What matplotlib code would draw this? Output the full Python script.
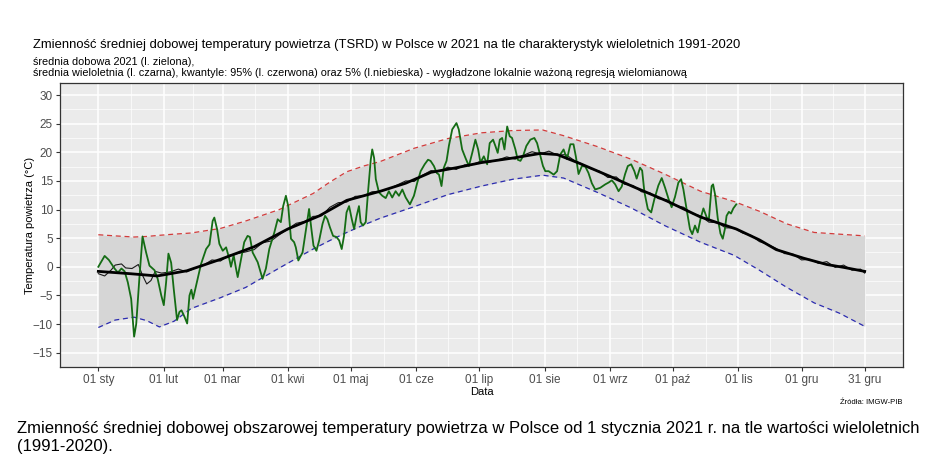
import numpy as np
import matplotlib.pyplot as plt

plt.rcParams['font.family'] = ['Liberation Sans', 'DejaVu Sans']

# os X: dzien roku 2021 (0 = 1 stycznia)
tick_days = [0, 31, 59, 90, 120, 151, 181, 212, 243, 273, 304, 334, 364]
tick_labels = ['01 sty', '01 lut', '01 mar', '01 kwi', '01 maj', '01 cze', '01 lip',
               '01 sie', '01 wrz', '01 paź', '01 lis', '01 gru', '31 gru']

# srednia dobowa 2021 (l. zielona)
green_day = [0, 3, 5, 7.7, 9.3, 11, 12.5, 14, 15.6, 17, 18, 19.5, 21, 22.7, 24.3, 26.7,
             28.2, 29.9, 31.1, 32.2, 33.3, 34.6, 35.8, 37.4, 38.5, 39.5, 40.9, 42.2, 43.3,
             44.2, 45, 47.2, 48.8, 51.2, 52.8, 54.3, 55.1, 56.4, 57.5, 59.1, 60.7, 62.2, 63,
             64.3, 65.4, 66.2, 67.8, 69.3, 70.9, 72, 73.3, 75.7, 78, 79.6, 81.2, 83.6, 85.2,
             86.7, 87.8, 89.1, 90.2, 91.5, 93, 93.8, 95, 97, 98.2, 99.4, 100.1, 101.2, 102.2,
             103.6, 104.9, 106.5, 107.7, 108.8, 110, 111.5, 113.1, 114.4, 115.6, 116.7, 117.9,
             119.1, 120.4, 121.5, 122.7, 123.8, 124.6, 125.7, 127, 128.2, 129.4, 130.1, 131,
             131.8, 133.3, 134.9, 136.5, 138, 139.6, 141.2, 142.8, 144.4, 146, 148, 149.9,
             151.5, 153.1, 155, 156.6, 157.8, 159.4, 160.7, 161.8, 163, 164.1, 165.4, 166.5,
             168.1, 170.1, 171.2, 172.8, 174.4, 176, 177.6, 179.1, 180.4, 181.5, 183.1, 184.7,
             185.9, 187.5, 188.6, 189.7, 190.7, 191.8, 192.9, 194.2, 195.4, 196.5, 198.1,
             199.2, 200.5, 201.7, 203.3, 205.2, 207.1, 208.4, 209.6, 211.2, 212.3, 213.9,
             216.3, 217.9, 219.4, 221, 222.6, 224.2, 225.7, 226.8, 228.1, 229.7, 231.3, 232.8,
             234.4, 236, 238.4, 240.8, 242.3, 243.9, 245.5, 247.1, 248.6, 250.2, 251.5, 253.1,
             254.6, 255.7, 257.3, 258.3, 259.4, 261, 262.6, 264.1, 266, 267.6, 269.2, 270.8,
             272.3, 273.9, 275.5, 276.8, 277.9, 279.4, 281, 282.1, 283.4, 284.7, 286.1, 287.4,
             289, 290, 291.3, 292, 293, 294.2, 295.5, 296.6, 297.6, 298.4, 299.5, 300.5,
             301.6, 303]
green_temp = [0.0, 1.9, 1.2, -0.3, -1.0, -0.3, -0.8, -2.7, -5.6, -12.2, -10.0, -2.0, 5.3,
              2.5, 0.2, -0.6, -2.1, -5.0, -6.7, -2.7, 2.3, 0.7, -3.8, -9.3, -7.9, -7.6, -8.7,
              -9.9, -5.0, -4.0, -5.6, -2.1, 0.5, 3.1, 3.9, 8.0, 8.6, 6.6, 4.0, 2.8, 3.4, 1.4,
              0.0, 2.0, -0.3, -1.8, 1.4, 4.3, 5.4, 5.2, 2.5, 0.8, -2.1, -0.3, 3.1, 6.0, 8.3,
              7.8, 10.6, 12.4, 10.6, 4.9, 4.3, 3.4, 1.1, 2.5, 5.4, 8.3, 10.1, 6.6, 3.7, 2.8,
              4.6, 7.5, 8.9, 8.3, 6.9, 5.4, 5.2, 4.6, 3.1, 5.4, 9.5, 10.6, 8.3, 6.6, 8.9, 10.6,
              7.8, 7.2, 7.8, 13.5, 18.7, 20.5, 19.0, 15.3, 13.0, 12.4, 12.0, 13.2, 12.1, 13.2,
              12.4, 13.5, 12.1, 10.9, 12.4, 14.7, 16.7, 17.9, 18.7, 18.5, 17.6, 16.4, 16.1,
              14.1, 17.3, 18.5, 21.1, 24.0, 25.1, 24.0, 20.5, 19.0, 17.6, 19.9, 22.2, 20.5,
              18.2, 19.3, 17.9, 21.6, 22.2, 21.1, 19.9, 22.2, 22.5, 20.5, 24.5, 22.8, 22.5,
              20.5, 18.7, 18.5, 19.3, 21.1, 22.2, 22.5, 21.6, 19.9, 17.6, 16.7, 16.7, 16.1,
              16.7, 19.6, 20.5, 18.8, 21.4, 21.4, 19.3, 16.2, 17.6, 17.5, 16.4, 14.6, 13.5,
              13.8, 14.4, 14.7, 15.1, 14.4, 13.2, 14.0, 16.2, 17.6, 17.9, 16.7, 15.4, 17.3,
              16.8, 13.0, 10.1, 9.5, 11.8, 14.2, 15.5, 13.8, 11.9, 10.4, 12.2, 14.7, 15.3,
              13.5, 10.1, 6.6, 5.7, 7.2, 6.0, 8.5, 10.2, 8.6, 8.3, 14.1, 14.4, 12.5, 8.5, 5.8,
              4.9, 6.6, 8.9, 9.6, 9.3, 10.2, 10.9]

# srednia wieloletnia - wartosci dobowe (cienka czarna)
mean_day = [0, 3, 6, 8, 11, 13, 16, 19, 21, 23, 25, 27, 30, 34, 38, 42, 46, 50, 54, 58, 62,
            66, 70, 74, 78, 82, 86, 90, 94, 98, 102, 106, 110, 114, 118, 122, 126, 130, 134,
            138, 142, 146, 150, 154, 158, 162, 166, 170, 174, 178, 182, 186, 190, 194, 198,
            202, 206, 210, 214, 218, 222, 226, 230, 234, 238, 242, 246, 250, 254, 258, 262,
            266, 270, 274, 278, 282, 286, 290, 294, 298, 302, 306, 310, 314, 318, 322, 326,
            330, 334, 338, 342, 346, 350, 354, 358, 362, 364]
mean_raw = [-1.2, -1.6, -0.6, 0.3, 0.5, -0.2, -0.3, 0.4, -1.5, -3.0, -2.4, -0.8, -1.1, -0.9,
            -0.4, -0.9, -0.2, 0.3, 1.2, 1.0, 2.0, 2.3, 2.6, 3.0, 4.2, 4.5, 5.6, 6.6, 7.6, 7.9,
            8.8, 8.9, 10.4, 11.2, 11.3, 12.3, 12.4, 13.1, 13.2, 13.6, 14.3, 15.0, 14.9, 16.0,
            16.8, 16.7, 17.4, 17.0, 17.8, 17.9, 18.5, 18.3, 18.7, 19.2, 18.8, 19.5, 20.1, 19.7,
            20.2, 19.5, 19.6, 18.6, 17.9, 17.1, 16.7, 15.6, 15.7, 14.4, 14.2, 13.1, 12.9, 11.9,
            11.7, 10.7, 10.4, 9.3, 8.9, 7.8, 7.7, 6.8, 6.8, 5.9, 5.5, 4.4, 3.9, 3.2, 2.3, 2.2,
            1.2, 1.3, 0.6, 0.9, -0.1, 0.3, -0.6, -0.4, -1.1]

# srednia wieloletnia wygladzona (gruba czarna)
smooth_day = [0, 15, 28, 42, 58, 74, 90, 105, 118, 134, 146, 158, 170, 182, 197, 210, 218,
              229, 243, 254, 270, 286, 303, 314, 322, 335, 346, 354, 364]
smooth_mean = [-0.8, -1.2, -1.6, -0.7, 1.3, 3.5, 6.6, 8.9, 11.6, 13.2, 14.6, 16.5, 17.3,
               18.2, 19.0, 19.8, 19.6, 18.0, 15.8, 14.0, 11.5, 8.7, 6.6, 4.7, 3.0, 1.5, 0.4,
               -0.1, -0.8]

# kwantyle 95% (czerwona) i 5% (niebieska)
q_day = [0, 8, 17, 23, 29, 36, 44, 58, 70, 86, 102, 110, 118, 126, 134, 150, 166, 182, 197,
         211, 221, 237, 253, 269, 286, 302, 314, 327, 340, 352, 364]
q95 = [5.6, 5.4, 5.2, 5.3, 5.5, 5.7, 5.9, 6.7, 8.0, 10.0, 12.8, 14.8, 16.6, 17.6, 18.4, 20.7,
       22.4, 23.4, 23.8, 23.9, 22.9, 21.0, 18.8, 16.2, 13.2, 11.4, 9.7, 7.5, 6.0, 5.7, 5.4]
q05 = [-10.6, -9.3, -8.8, -9.4, -10.5, -9.5, -7.3, -5.4, -3.6, -0.2, 3.1, 4.6, 6.0, 7.3, 8.5,
       10.5, 12.6, 14.1, 15.3, 16.0, 15.5, 13.0, 10.3, 7.2, 4.3, 2.0, -0.6, -3.6, -6.3, -8.1,
       -10.4]

W, H = 929, 475
fig = plt.figure(figsize=(W / 100, H / 100), dpi=100)
ax = fig.add_axes([60 / W, 1 - 367 / H, 843 / W, 284 / H])
ax.set_facecolor('#EBEBEB')

ax.fill_between(q_day, q05, q95, color='#D6D6D6', lw=0, zorder=2)
ax.plot(q_day, q95, color='#D23B3B', lw=0.9, ls=(0, (4, 3)), zorder=3)
ax.plot(q_day, q05, color='#2B2BB0', lw=0.9, ls=(0, (4, 3)), zorder=3)
ax.plot(mean_day, mean_raw, color='#1A1A1A', lw=0.8, zorder=4)
ax.plot(green_day, green_temp, color='#146C14', lw=1.3, zorder=5)
ax.plot(smooth_day, smooth_mean, color='black', lw=2.0, zorder=6)

ax.set_xlim(-18.2, 382.2)
ax.set_ylim(-17.2, 32.1)
ax.set_xticks(tick_days)
ax.set_xticklabels(tick_labels)
ax.set_xticks([(a + b) / 2 for a, b in zip(tick_days[:-1], tick_days[1:])], minor=True)
ax.set_yticks(np.arange(-15, 31, 5))
ax.set_yticks(np.arange(-17.5, 31, 5), minor=True)
ax.grid(which='major', color='white', lw=1.1, zorder=1)
ax.grid(which='minor', color='white', lw=0.5, zorder=1)
ax.set_axisbelow(True)
ax.tick_params(which='major', length=3, width=0.8, color='#333333', labelcolor='#4D4D4D',
               labelsize=8.5, pad=2)
ax.tick_params(which='minor', length=0)
for s in ax.spines.values():
    s.set_color('#333333')
    s.set_linewidth(0.9)

ax.set_xlabel('Data', fontsize=8, labelpad=1)
ax.set_ylabel('Temperatura powietrza (°C)', fontsize=8)
ax.yaxis.set_label_coords(-25 / 843, 0.5)

fig.text(33 / W, 1 - 45 / H,
         'Zmienność średniej dobowej temperatury powietrza (TSRD) w Polsce w 2021 na tle '
         'charakterystyk wieloletnich 1991-2020', fontsize=9.4, va='center')
fig.text(33 / W, 1 - 62 / H, 'średnia dobowa 2021 (l. zielona),', fontsize=7.8, va='center')
fig.text(33 / W, 1 - 73 / H,
         'średnia wieloletnia (l. czarna), kwantyle: 95% (l. czerwona) oraz 5% (l.niebieska) '
         '- wygładzone lokalnie ważoną regresją wielomianową', fontsize=7.8, va='center')
fig.text(903 / W, 1 - 403 / H, 'Źródła: IMGW-PIB', fontsize=5.5, ha='right', va='center')

fig.text(17 / W, 1 - 428 / H,
         'Zmienność średniej dobowej obszarowej temperatury powietrza w Polsce od 1 stycznia '
         '2021 r. na tle wartości wieloletnich', fontsize=12.0, va='center')
fig.text(17 / W, 1 - 447 / H, '(1991-2020).', fontsize=12.0, va='center')

fig.savefig('out.png', dpi=100)
